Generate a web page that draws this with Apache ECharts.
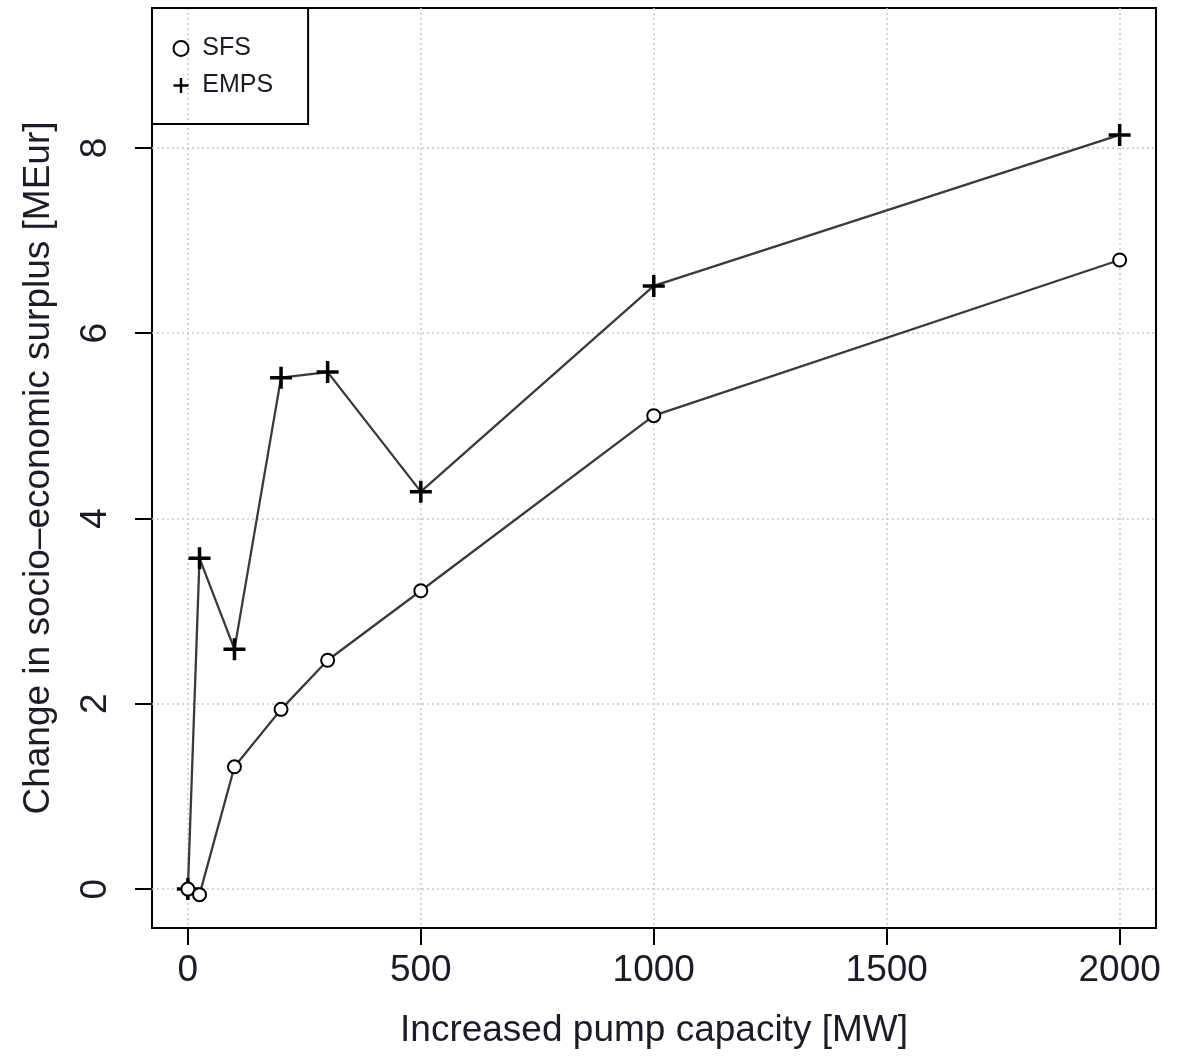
<!DOCTYPE html>
<html>
<head>
<meta charset="utf-8">
<script src="https://cdn.jsdelivr.net/npm/echarts@6/dist/echarts.min.js"></script>
<style>html,body{margin:0;padding:0;background:#fff}#c{width:1190px;height:1056px}</style>
</head>
<body>
<div id="c"></div>
<script>
const capacity = [0, 25, 100, 200, 300, 500, 1000, 2000];
const sfs = [0, -0.06, 1.32, 1.94, 2.47, 3.22, 5.11, 6.79];
const emps = [0, 3.57, 2.59, 5.52, 5.58, 4.29, 6.51, 8.14];
const xTicks = [0, 500, 1000, 1500, 2000];
const yTicks = [0, 2, 4, 6, 8];

const PLUS = 'path://M9.25,0h3.5v9.25h9.25v3.5h-9.25v9.25h-3.5v-9.25h-9.25v-3.5h9.25z';
const font = 'Liberation Sans, Arial, sans-serif';
const txt = '#1c1c28';

const chart = echarts.init(document.getElementById('c'), null, {renderer: 'canvas'});
chart.setOption({
  animation: false,
  backgroundColor: '#fff',
  grid: {left: 152, right: 34, top: 8, bottom: 128, show: true, borderColor: '#000', borderWidth: 2},
  legend: {
    orient: 'vertical', left: 152, top: 8,
    padding: [28, 35, 26, 20.5],
    borderColor: '#000', borderWidth: 2,
    itemWidth: 32.5, itemHeight: 15, itemGap: 12,
    textStyle: {fontFamily: font, fontSize: 25, color: txt},
    data: [
      {name: 'SFS', icon: 'emptyCircle', itemStyle: {color: '#000', borderColor: '#000', borderWidth: 3}},
      {name: 'EMPS', icon: PLUS, itemStyle: {color: '#000', borderWidth: 0}}
    ]
  },
  xAxis: {
    type: 'value', min: -77, max: 2078,
    name: 'Increased pump capacity [MW]', nameLocation: 'middle', nameGap: 84,
    nameTextStyle: {fontFamily: font, fontSize: 37, color: txt},
    axisLine: {show: false, onZero: false},
    axisTick: {show: true, inside: false, length: 17, lineStyle: {color: '#000', width: 2}, customValues: xTicks},
    axisLabel: {fontFamily: font, fontSize: 37, color: txt, margin: 24, customValues: xTicks, formatter: v => String(v)},
    splitLine: {show: true, lineStyle: {color: '#c8c8c8', width: 1.5, type: [2, 3]}}
  },
  yAxis: {
    type: 'value', min: -0.42, max: 9.51,
    name: 'Change in socio\u2013economic surplus [MEur]', nameLocation: 'middle', nameGap: 95,
    nameTextStyle: {fontFamily: font, fontSize: 37, color: txt},
    axisLine: {show: false, onZero: false},
    axisTick: {show: true, inside: false, length: 17, lineStyle: {color: '#000', width: 2}, customValues: yTicks},
    axisLabel: {fontFamily: font, fontSize: 37, color: txt, margin: 38, rotate: 90, customValues: yTicks, formatter: v => String(v)},
    splitLine: {show: true, lineStyle: {color: '#c8c8c8', width: 1.5, type: [2, 3]}}
  },
  series: [
    {
      name: 'SFS', type: 'line',
      data: capacity.map((x, i) => [x, sfs[i]]),
      symbol: 'emptyCircle', symbolSize: 13,
      itemStyle: {color: '#000', borderWidth: 3},
      lineStyle: {color: '#3a3a3a', width: 2.3},
      z: 3
    },
    {
      name: 'EMPS', type: 'line',
      data: capacity.map((x, i) => [x, emps[i]]),
      symbol: PLUS, symbolSize: 22,
      itemStyle: {color: '#000', borderWidth: 0},
      lineStyle: {color: '#3a3a3a', width: 2.3},
      z: 2
    }
  ]
});
</script>
</body>
</html>
